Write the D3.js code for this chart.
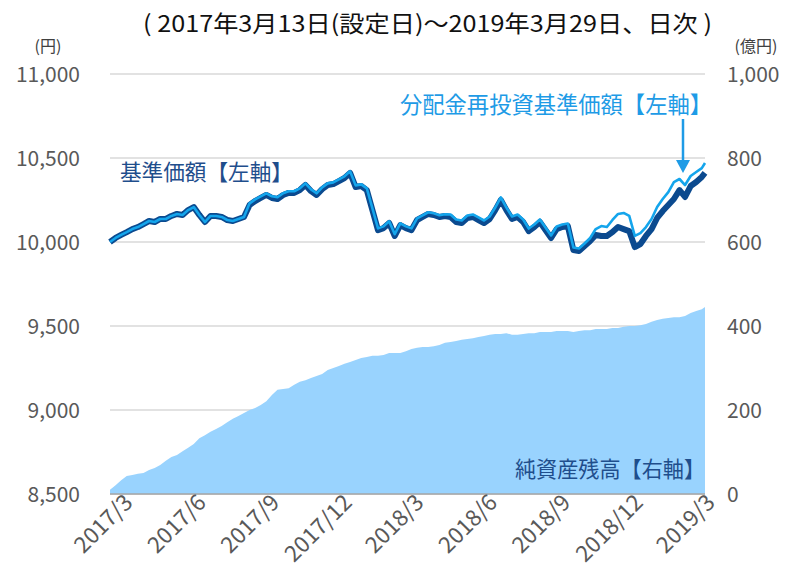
<!DOCTYPE html>
<html><head><meta charset="utf-8">
<script src="https://cdn.jsdelivr.net/npm/d3@7/dist/d3.min.js"></script>
<style>body{margin:0;background:#fff}svg{display:block}</style>
</head><body>
<svg id="c" width="788" height="577"></svg>
<script>
const dates = ["2017-03-13","2017-03-20","2017-03-27","2017-04-03","2017-04-10","2017-04-17","2017-04-24","2017-05-01","2017-05-08","2017-05-15","2017-05-22","2017-05-29","2017-06-05","2017-06-12","2017-06-19","2017-06-26","2017-07-03","2017-07-10","2017-07-17","2017-07-24","2017-07-31","2017-08-07","2017-08-14","2017-08-21","2017-08-28","2017-09-04","2017-09-11","2017-09-18","2017-09-25","2017-10-02","2017-10-09","2017-10-16","2017-10-23","2017-10-30","2017-11-06","2017-11-13","2017-11-20","2017-11-27","2017-12-04","2017-12-11","2017-12-18","2017-12-25","2018-01-01","2018-01-08","2018-01-15","2018-01-22","2018-01-29","2018-02-05","2018-02-12","2018-02-19","2018-02-26","2018-03-05","2018-03-12","2018-03-19","2018-03-26","2018-04-02","2018-04-09","2018-04-16","2018-04-23","2018-04-30","2018-05-07","2018-05-14","2018-05-21","2018-05-28","2018-06-04","2018-06-11","2018-06-18","2018-06-25","2018-07-02","2018-07-09","2018-07-16","2018-07-23","2018-07-30","2018-08-06","2018-08-13","2018-08-20","2018-08-27","2018-09-03","2018-09-10","2018-09-17","2018-09-24","2018-10-01","2018-10-08","2018-10-15","2018-10-22","2018-10-29","2018-11-05","2018-11-12","2018-11-19","2018-11-26","2018-12-03","2018-12-10","2018-12-17","2018-12-24","2018-12-31","2019-01-07","2019-01-14","2019-01-21","2019-01-28","2019-02-04","2019-02-11","2019-02-18","2019-02-25","2019-03-04","2019-03-11","2019-03-18","2019-03-25","2019-03-29"];

// 基準価額 (円)
const basePrice = [10000,10024,10042,10059,10077,10089,10107,10125,10119,10137,10137,10155,10167,10161,10190,10208,10161,10119,10155,10155,10149,10131,10125,10137,10149,10220,10244,10262,10280,10262,10256,10280,10292,10292,10309,10339,10303,10280,10315,10339,10345,10363,10381,10411,10327,10333,10309,10190,10071,10083,10113,10036,10101,10083,10071,10131,10149,10167,10161,10149,10155,10149,10119,10113,10143,10149,10131,10113,10137,10190,10250,10190,10137,10149,10119,10065,10089,10119,10071,10024,10077,10089,10095,9952,9946,9976,10006,10042,10036,10036,10059,10089,10077,10065,9970,9988,10036,10077,10143,10184,10220,10256,10309,10268,10333,10357,10387,10411];

// 分配金再投資基準価額 (円)
const reinvPrice = [10000,10024,10042,10059,10077,10089,10107,10125,10119,10137,10137,10155,10167,10161,10190,10208,10161,10119,10155,10155,10149,10131,10125,10137,10149,10230,10254,10272,10290,10272,10266,10290,10302,10302,10319,10349,10313,10290,10325,10349,10355,10373,10391,10421,10337,10343,10319,10200,10081,10093,10123,10046,10111,10093,10081,10141,10159,10177,10171,10159,10165,10164,10134,10128,10158,10164,10146,10128,10152,10205,10265,10205,10152,10164,10134,10080,10104,10134,10086,10039,10092,10104,10110,9967,9961,9991,10024,10077,10095,10089,10131,10167,10173,10155,10036,10053,10089,10137,10208,10256,10297,10357,10375,10339,10393,10417,10440,10470];

// 純資産残高 (億円)
const netAssets = [10,21,33,43,45,48,50,57,62,69,79,88,93,102,110,119,133,140,148,155,162,171,179,186,193,200,205,212,221,236,248,250,252,260,267,271,276,281,286,295,300,305,310,314,319,324,326,329,329,331,336,336,336,340,345,348,350,350,352,355,360,362,364,367,369,371,374,376,379,381,381,383,379,379,381,383,383,386,386,386,388,388,388,386,388,390,390,393,393,393,395,395,398,400,400,402,405,410,414,417,419,421,421,424,431,436,440,445];

const leftTicks = [8500,9000,9500,10000,10500,11000];
const rightTicks = [0,200,400,600,800,1000];
const xTickDates = ["2017-03-13","2017-06-13","2017-09-13","2017-12-13","2018-03-13","2018-06-13","2018-09-13","2018-12-13","2019-03-13"];
const xTickLabels = ["2017/3","2017/6","2017/9","2017/12","2018/3","2018/6","2018/9","2018/12","2019/3"];

const FONT = "'Noto Sans CJK JP','Noto Sans',sans-serif";
const svg = d3.select("#c");
const parse = d3.timeParse("%Y-%m-%d");
const D = dates.map(parse);

const x = d3.scaleTime().domain([D[0], D[D.length-1]]).range([110, 705]);
const yL = d3.scaleLinear().domain([8500, 11000]).range([494, 74]);
const yR = d3.scaleLinear().domain([0, 1000]).range([494, 74]);

// gridlines
svg.append("g").selectAll("line").data(leftTicks).join("line")
  .attr("x1", 110).attr("x2", 705)
  .attr("y1", d => yL(d)).attr("y2", d => yL(d))
  .attr("stroke", "#d9d9d9").attr("stroke-width", 1.3);

// area
const area = d3.area().x((d,i) => x(D[i])).y0(yR(0)).y1(d => yR(d));
svg.append("path").datum(netAssets).attr("d", area).attr("fill", "#99d3fe");

// baseline axis
svg.append("line").attr("x1", 110).attr("x2", 705).attr("y1", 494).attr("y2", 494)
  .attr("stroke", "#a6a6a6").attr("stroke-width", 1.3);

// lines
const line = d3.line().x((d,i) => x(D[i])).y(d => yL(d)).curve(d3.curveLinear);
svg.append("path").datum(basePrice).attr("d", line).attr("fill", "none")
  .attr("stroke", "#0b4a8f").attr("stroke-width", 6).attr("stroke-linejoin", "round");
svg.append("path").datum(reinvPrice).attr("d", line).attr("fill", "none")
  .attr("stroke", "#14a5ec").attr("stroke-width", 2.6).attr("stroke-linejoin", "round");

// left axis labels
svg.append("g").selectAll("text").data(leftTicks).join("text")
  .attr("x", 80).attr("y", d => yL(d)).attr("dy", "0.36em")
  .attr("text-anchor", "end").attr("font-family", FONT).attr("font-size", 21)
  .attr("fill", "#595959").text(d => d3.format(",")(d));
// right axis labels
svg.append("g").selectAll("text").data(rightTicks).join("text")
  .attr("x", 727).attr("y", d => yR(d)).attr("dy", "0.36em")
  .attr("text-anchor", "start").attr("font-family", FONT).attr("font-size", 21)
  .attr("fill", "#595959").text(d => d3.format(",")(d));

// x axis labels
svg.append("g").selectAll("text").data(xTickLabels).join("text")
  .attr("transform", (d,i) => `translate(${x(parse(xTickDates[i])) + 24},${504}) rotate(-45)`)
  .attr("text-anchor", "end").attr("font-family", FONT).attr("font-size", 22.5)
  .attr("fill", "#595959").text(d => d);

// units
svg.append("text").attr("x", 48).attr("y", 46).attr("dy", "0.36em").attr("text-anchor", "middle")
  .attr("font-family", FONT).attr("font-size", 16).attr("fill", "#404040").text("(円)");
svg.append("text").attr("x", 756).attr("y", 46).attr("dy", "0.36em").attr("text-anchor", "middle")
  .attr("font-family", FONT).attr("font-size", 16).attr("fill", "#404040").text("(億円)");

// title
svg.append("text").attr("x", 143).attr("y", 24).attr("dy", "0.36em")
  .attr("font-family", FONT).attr("font-size", 23).attr("fill", "#111")
  .attr("textLength", 569).attr("lengthAdjust", "spacingAndGlyphs")
  .text("( 2017年3月13日(設定日)～2019年3月29日、日次 )");

// series labels
svg.append("text").attr("x", 120).attr("y", 172).attr("dy", "0.36em")
  .attr("font-family", FONT).attr("font-size", 22).attr("fill", "#1f4e8c")
  .attr("textLength", 173).attr("lengthAdjust", "spacingAndGlyphs").text("基準価額【左軸】");
svg.append("text").attr("x", 400).attr("y", 105).attr("dy", "0.36em")
  .attr("font-family", FONT).attr("font-size", 23).attr("fill", "#1e9be6")
  .attr("textLength", 312).attr("lengthAdjust", "spacingAndGlyphs").text("分配金再投資基準価額【左軸】");
svg.append("text").attr("x", 515).attr("y", 469).attr("dy", "0.36em")
  .attr("font-family", FONT).attr("font-size", 22).attr("fill", "#1f4e8c")
  .attr("textLength", 190).attr("lengthAdjust", "spacingAndGlyphs").text("純資産残高【右軸】");

// arrow
svg.append("line").attr("x1", 683).attr("x2", 683).attr("y1", 119).attr("y2", 162)
  .attr("stroke", "#1e9be6").attr("stroke-width", 2.5);
svg.append("path").attr("d", "M676,160 L690,160 L683,173 Z").attr("fill", "#1e9be6");
</script>
</body></html>
